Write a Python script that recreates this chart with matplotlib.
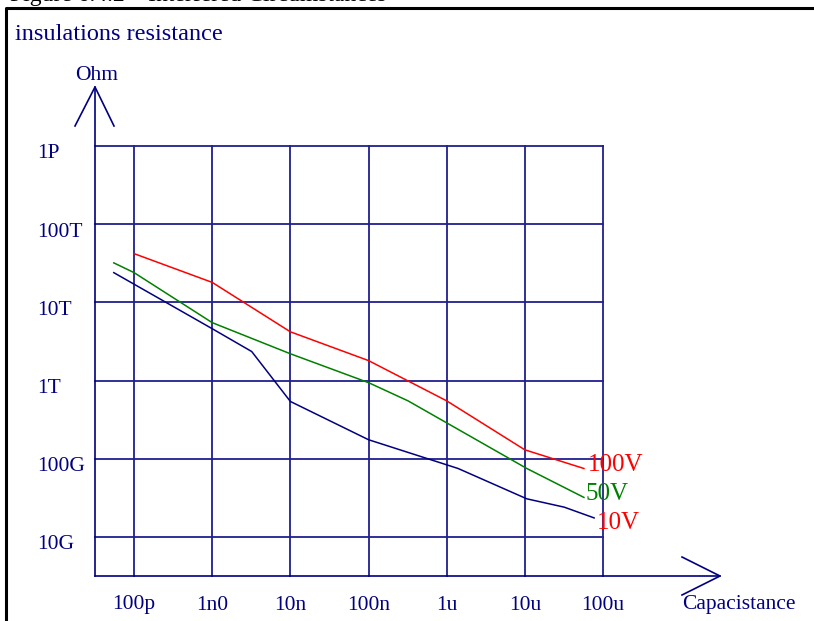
import numpy as np
import matplotlib
matplotlib.use("Agg")
from matplotlib import pyplot as plt
from matplotlib import transforms
from matplotlib.lines import Line2D

plt.rcParams['font.family'] = ['Liberation Serif', 'DejaVu Serif']

# capacitance (F) vs insulation resistance (Ohm)
cap_100v = [100e-12, 1e-9, 10e-9, 100e-9, 1e-6, 10e-6, 57e-6]
res_100v = [4.2e13, 1.8e13, 4.2e12, 1.8e12, 5.5e11, 1.3e11, 7.5e10]

cap_50v = [55e-12, 100e-12, 1e-9, 10e-9, 100e-9, 0.32e-6, 10.6e-6, 57e-6]
res_50v = [3.2e13, 2.4e13, 5.5e12, 2.2e12, 9.4e11, 5.5e11, 7.5e10, 3.2e10]

cap_10v = [55e-12, 1e-9, 3.2e-9, 10e-9, 100e-9, 1.4e-6, 10.6e-6, 32e-6, 77e-6]
res_10v = [2.4e13, 4.6e12, 2.35e12, 5.4e11, 1.75e11, 7.5e10, 3.07e10, 2.4e10, 1.75e10]

x_ticks = [1e-10, 1e-9, 1e-8, 1e-7, 1e-6, 1e-5, 1e-4]
x_labels = ["100p", "1n0", "10n", "100n", "1u", "10u", "100u"]
y_ticks = [1e15, 1e14, 1e13, 1e12, 1e11, 1e10]
y_labels = ["1P", "100T", "10T", "1T", "100G", "10G"]

W, H = 814, 621
navy = "#000080"
grid_c = "#1f1f8f"

fig = plt.figure(figsize=(W / 100, H / 100), dpi=100)


def fx(px):
    return px / W


def fy(py):
    return 1 - py / H


ax = fig.add_axes([fx(95), fy(576), fx(603) - fx(95), fy(146) - fy(576)])
ax.patch.set_alpha(0)
ax.set_xscale("log")
ax.set_yscale("log")
x0, x1 = 10 ** -10.5, 1e-4
y0, y1 = 10 ** 9.5, 1e15
ax.set_xlim(x0, x1)
ax.set_ylim(y0, y1)
for s in ax.spines.values():
    s.set_visible(False)
ax.set_xticks([])
ax.set_yticks([])
ax.minorticks_off()

for xv in x_ticks:
    ax.plot([xv, xv], [y0, y1], color=grid_c, lw=1.3, zorder=1, clip_on=False)
for yv in y_ticks:
    ax.plot([x0, x1], [yv, yv], color=grid_c, lw=1.3, zorder=1, clip_on=False)

ax.plot(cap_100v, res_100v, color="#ff0000", lw=1.1, zorder=3)
ax.plot(cap_50v, res_50v, color="#008000", lw=1.1, zorder=3)
ax.plot(cap_10v, res_10v, color=navy, lw=1.1, zorder=3)

ax.text(cap_100v[-1], res_100v[-1], "100V", color="#ff0000", fontsize=18,
        ha="left", va="center",
        transform=ax.transData + transforms.ScaledTranslation(0.04, 0.03, fig.dpi_scale_trans))
ax.text(cap_50v[-1], res_50v[-1], "50V", color="#008000", fontsize=18,
        ha="left", va="center",
        transform=ax.transData + transforms.ScaledTranslation(0.02, 0.03, fig.dpi_scale_trans))
ax.text(cap_10v[-1], res_10v[-1], "10V", color="#ff0000", fontsize=18,
        ha="left", va="center",
        transform=ax.transData + transforms.ScaledTranslation(0.03, -0.05, fig.dpi_scale_trans))

# tick labels
tx = transforms.blended_transform_factory(ax.transData, fig.transFigure)
for xv, lab in zip(x_ticks, x_labels):
    ax.text(xv, fy(605), lab, transform=tx, color=navy, fontsize=15.5,
            ha="center", va="center")
ty = transforms.blended_transform_factory(fig.transFigure, ax.transData) + \
    transforms.ScaledTranslation(0, -0.08, fig.dpi_scale_trans)
for yv, lab in zip(y_ticks, y_labels):
    ax.text(fx(37), yv, lab, transform=ty, color=navy, fontsize=15.5,
            ha="left", va="center")

# axes with open arrowheads
fig.add_artist(Line2D([fx(95), fx(95)], [fy(576), fy(87)], color=navy, lw=1.2))
fig.add_artist(Line2D([fx(75), fx(95), fx(114)], [fy(126), fy(87), fy(126)], color=navy, lw=1.2))
fig.add_artist(Line2D([fx(95), fx(720)], [fy(576), fy(576)], color=navy, lw=1.2))
fig.add_artist(Line2D([fx(682), fx(720), fx(682)], [fy(557), fy(576), fy(595)], color=navy, lw=1.2))

fig.text(fx(97), fy(76), "Ohm", color=navy, fontsize=15.5, ha="center", va="center")
fig.text(fx(682), fy(605), "Capacistance", color=navy, fontsize=15.5, ha="left", va="center")
fig.text(fx(15), fy(34), "insulations resistance", color=navy, fontsize=17.5,
         ha="left", va="center")

# frame and caption above it (cut at the top edge, as in the source)
fig.add_artist(Line2D([fx(6), fx(6), fx(814)], [fy(621), fy(8), fy(8)], color="black", lw=2.2))
fig.text(fx(10), fy(1), "Figure 6.4.2    Interfered Circumstances", color="black",
         fontsize=17, ha="left", va="baseline")

fig.savefig("out.png", dpi=100)
